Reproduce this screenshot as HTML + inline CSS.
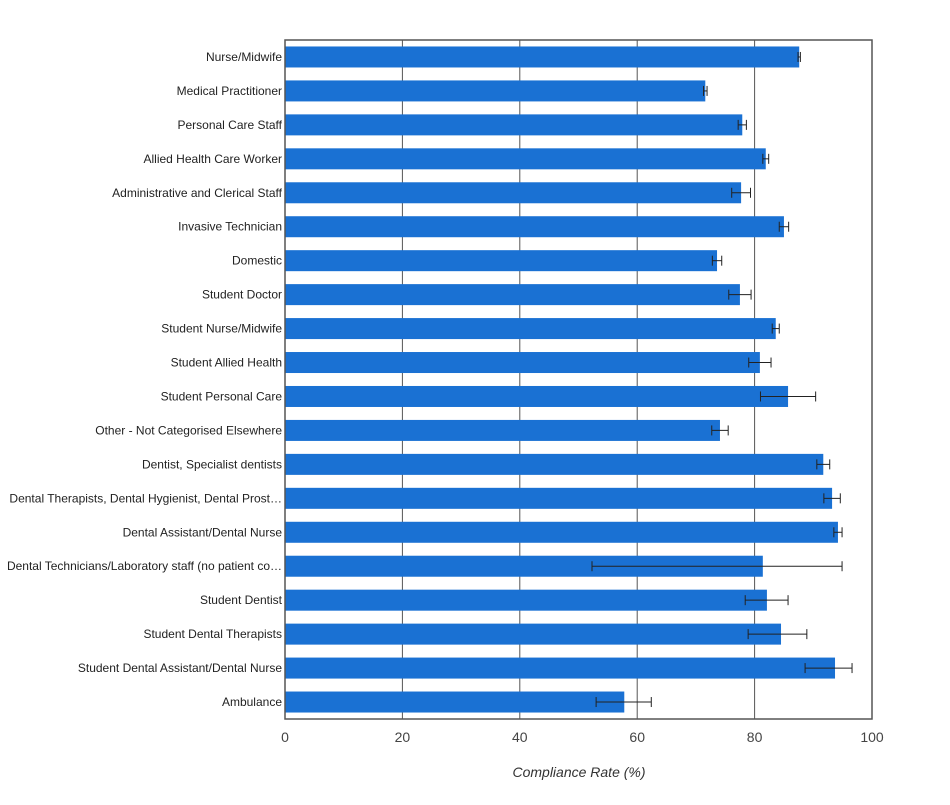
<!DOCTYPE html>
<html><head><meta charset="utf-8"><style>
body{margin:0;background:#fff;font-family:"Liberation Sans",Arial,sans-serif}
</style></head><body>
<svg id="chart" width="950" height="800" xmlns="http://www.w3.org/2000/svg"></svg>
<script>
const categories=["Nurse/Midwife","Medical Practitioner","Personal Care Staff","Allied Health Care Worker","Administrative and Clerical Staff","Invasive Technician","Domestic","Student Doctor","Student Nurse/Midwife","Student Allied Health","Student Personal Care","Other - Not Categorised Elsewhere","Dentist, Specialist dentists","Dental Therapists, Dental Hygienist, Dental Prost…","Dental Assistant/Dental Nurse","Dental Technicians/Laboratory staff (no patient co…","Student Dentist","Student Dental Therapists","Student Dental Assistant/Dental Nurse","Ambulance"];
const values=[87.6,71.6,77.9,81.9,77.7,85.0,73.6,77.5,83.6,80.9,85.7,74.1,91.7,93.2,94.2,81.4,82.1,84.5,93.7,57.8];
const errLow=[87.4,71.3,77.2,81.4,76.1,84.2,72.8,75.6,83.0,79.0,81.0,72.7,90.6,91.8,93.5,52.3,78.4,78.9,88.6,53.0];
const errHigh=[87.8,71.9,78.6,82.4,79.3,85.8,74.4,79.4,84.2,82.8,90.4,75.5,92.8,94.6,94.9,94.9,85.7,88.9,96.6,62.4];
const xTicks=[0,20,40,60,80,100];
const NS="http://www.w3.org/2000/svg";
const svg=document.getElementById('chart');
const L=285,R=872,T=40,B=719;
const x=v=>L+(v-0)/100*(R-L);
const band=(B-T)/categories.length;
const yc=i=>T+band*(i+0.5);
function mk(t,a){const e=document.createElementNS(NS,t);for(const k in a)e.setAttribute(k,a[k]);svg.appendChild(e);return e;}
xTicks.forEach(v=>{
 if(v>0&&v<100){const g=mk('line',{x1:x(v),x2:x(v),y1:T,y2:B,stroke:'#555','stroke-width':1});
 
 }
 const t=mk('text',{x:x(v),y:742,'text-anchor':'middle','font-size':14,fill:'#444'});t.textContent=v;
 
 
});
categories.forEach((c,i)=>{
 const b=mk('rect',{x:x(0),y:yc(i)-10.5,width:x(values[i])-x(0),height:21,fill:'#1a71d3'});
 
 
 const e=mk('g',{stroke:'#222','stroke-width':1});
 
 
 const y=yc(i);
 [[x(errLow[i]),y,x(errHigh[i]),y],[x(errLow[i]),y-5,x(errLow[i]),y+5],[x(errHigh[i]),y-5,x(errHigh[i]),y+5]].forEach(p=>{
  const l=document.createElementNS(NS,'line');l.setAttribute('x1',p[0]);l.setAttribute('y1',p[1]);l.setAttribute('x2',p[2]);l.setAttribute('y2',p[3]);e.appendChild(l);});
 const t=mk('text',{x:282,y:y+4,'text-anchor':'end','font-size':12,fill:'#222'});t.textContent=c;
 
 
});
const f=mk('rect',{x:L,y:T,width:R-L,height:B-T,fill:'none',stroke:'#555','stroke-width':1.5});


const at=mk('text',{x:579,y:777,'text-anchor':'middle','font-size':14,'font-style':'italic',fill:'#333'});
at.textContent='Compliance Rate (%)';


</script>
</body></html>
